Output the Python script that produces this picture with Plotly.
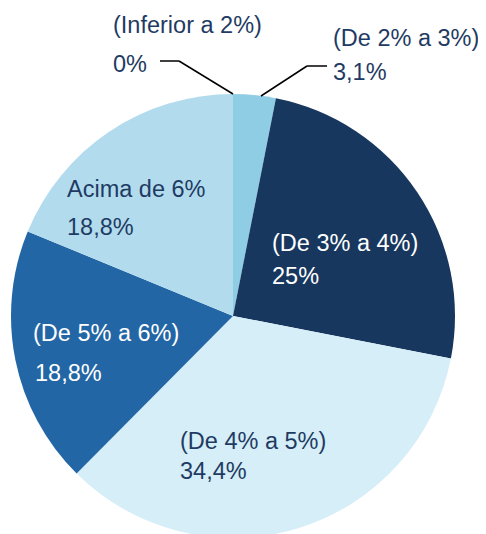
import plotly.graph_objects as go

categories = ["(Inferior a 2%)", "(De 2% a 3%)", "(De 3% a 4%)", "(De 4% a 5%)", "(De 5% a 6%)", "Acima de 6%"]
values = [0, 3.1, 25, 34.4, 18.8, 18.8]
pct_labels = ["0%", "3,1%", "25%", "34,4%", "18,8%", "18,8%"]
colors = ["#8FCDE5", "#8FCDE5", "#17375E", "#D6EEF7", "#2366A5", "#B2DCEE"]

W, H = 486, 534
OFF = 8  # page body margin offset
FONT = "Liberation Sans, Arial, sans-serif"
DARK = "#1F3B63"

CX, CY, R = 233 - OFF, 316 - OFF, 222
fig = go.Figure(go.Pie(
    labels=categories, values=values, sort=False, direction="clockwise",
    rotation=0, marker=dict(colors=colors, line=dict(width=0)),
    textinfo="none", hoverinfo="label+percent", showlegend=False,
    domain=dict(x=[(CX - R) / W, (CX + R) / W], y=[(H - CY - R) / H, (H - CY + R) / H]),
))

# label placement (screen pixel positions: left x, center y of each line)
label_pos = [
    ((113, 25), (113, 64)),
    ((333, 38), (333, 72)),
    ((272, 243), (272, 276)),
    ((180, 441), (180, 471)),
    ((33, 333), (35, 373)),
    ((67, 189), (67, 227)),
]
text_colors = [DARK, DARK, "white", DARK, "white", DARK]

def px(x, y):
    return (x - OFF) / W, 1 - (y - OFF) / H

for cat, pct, (p1, p2), tc in zip(categories, pct_labels, label_pos, text_colors):
    for txt, p in ((cat, p1), (pct, p2)):
        ax, ay = px(*p)
        fig.add_annotation(x=ax, y=ay, xref="paper", yref="paper", text=txt,
                           showarrow=False, xanchor="left", yanchor="middle",
                           xshift=-2, font=dict(family=FONT, size=23.5, color=tc))

# leader lines for the small slices
leaders = [
    [(160, 61), (179, 61), (233, 94)],
    [(261, 96), (307, 66), (327, 66)],
]
for pts in leaders:
    for (x0, y0), (x1, y1) in zip(pts[:-1], pts[1:]):
        a0, b0 = px(x0, y0)
        a1, b1 = px(x1, y1)
        fig.add_shape(type="line", xref="paper", yref="paper", x0=a0, y0=b0, x1=a1, y1=b1,
                      line=dict(color="black", width=1.5))

fig.update_layout(width=W, height=H, margin=dict(l=0, r=0, t=0, b=0),
                  paper_bgcolor="white", plot_bgcolor="white")
fig.write_html("out.html")
